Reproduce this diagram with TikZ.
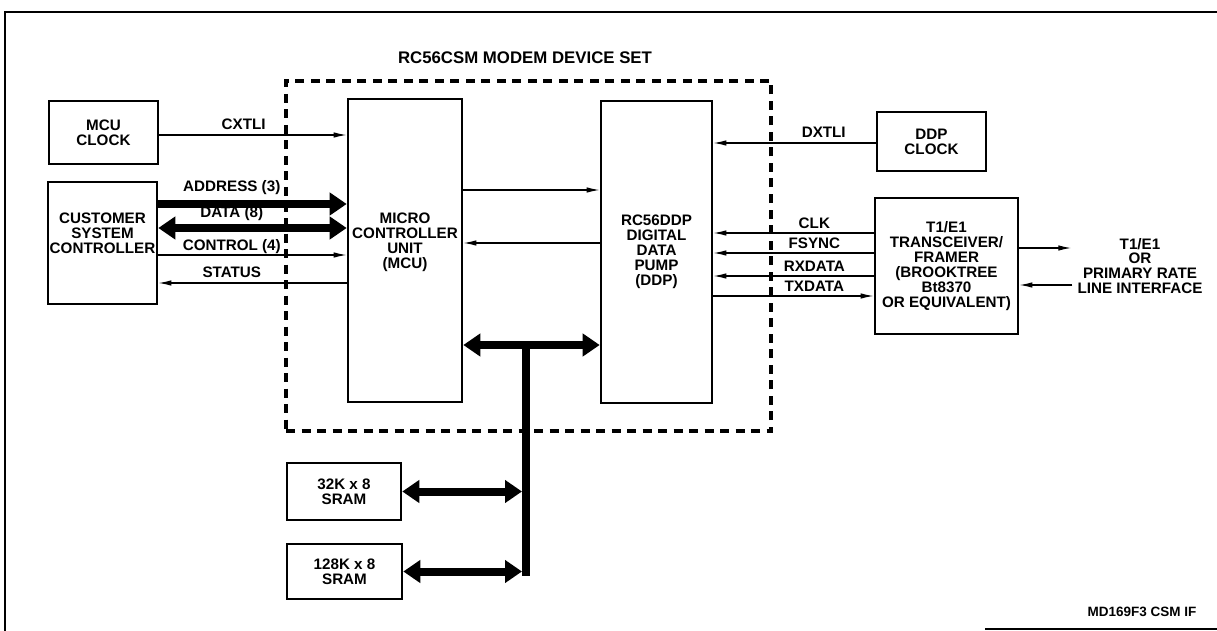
\documentclass[tikz,border=0pt]{standalone}
\usepackage{fontspec}
\setmainfont{Liberation Sans}
\usetikzlibrary{arrows.meta,calc}
\begin{document}
\begin{tikzpicture}[x=1pt,y=-1pt,
  box/.style={draw, line width=2.6pt, inner sep=0pt, font=\fontsize{15.2}{14.9}\selectfont\bfseries, align=center},
  txt/.style={inner sep=0pt, font=\fontsize{15.2}{14.9}\selectfont\bfseries, align=center},
  dashbox/.style={draw, line width=4pt, dash pattern=on 9pt off 6.5pt, inner sep=0pt},
  sig/.style={line width=1.3pt, -{Latex[length=13pt,width=5.5pt]}},
  fatone/.style={line width=8pt, -{Triangle[length=17pt,width=22pt]}},
  fattwo/.style={line width=8pt, {Triangle[length=17pt,width=22pt]}-{Triangle[length=17pt,width=22pt]}},
  busline/.style={line width=8pt},
  lab/.style={inner sep=0pt, anchor=base, yshift=5pt, font=\fontsize{15.2}{14.9}\selectfont\bfseries},
  labT/.style={lab, yshift=7pt}
]
\useasboundingbox (0,0) rectangle (1217,631);
% frame
\draw[line width=2.5pt] (1217,12) -- (5,12) -- (5,631);
\draw[line width=2pt] (985,629) -- (1217,629);

% device set
\node[dashbox, minimum width=485pt, minimum height=350pt] (set) at (528.5,256) {};
\node[txt, font=\fontsize{16.8}{18}\selectfont\bfseries] (title) at (525,58) {RC56CSM MODEM DEVICE SET};

% boxes
\node[box, minimum width=109pt, minimum height=63pt] (mcuclk) at (103.5,132.5) {MCU\\CLOCK};
\node[box, minimum width=109pt, minimum height=122pt] (csc) at (102.5,243) {};
\node[txt] (csct) at ($(csc.center)+(0,-10)$) {CUSTOMER\\SYSTEM\\CONTROLLER};
\node[box, minimum width=114pt, minimum height=303pt] (mcu) at (405,250.5) {};
\node[txt] (mcut) at ($(mcu.center)+(0,-8)$) {MICRO\\CONTROLLER\\UNIT\\(MCU)};
\node[box, minimum width=111pt, minimum height=302pt] (ddp) at (656.5,252) {RC56DDP\\DIGITAL\\DATA\\PUMP\\(DDP)};
\node[box, minimum width=109pt, minimum height=59pt] (ddpclk) at (931.5,141.5) {DDP\\CLOCK};
\node[box, minimum width=143pt, minimum height=136pt] (t1) at (946.5,266) {T1/E1\\TRANSCEIVER/\\FRAMER\\(BROOKTREE\\Bt8370\\OR EQUIVALENT)};
\node[txt] (line) at (1140,266) {T1/E1\\OR\\PRIMARY RATE\\LINE INTERFACE};
\node[box, minimum width=114pt, minimum height=57pt] (s32) at (344,491.5) {32K x 8\\SRAM};
\node[box, minimum width=115pt, minimum height=55pt] (s128) at (344.5,571.5) {128K x 8\\SRAM};
\node[txt, font=\fontsize{13.5}{14}\selectfont\bfseries] (fig) at (1142,612) {MD169F3 CSM IF};

% left side
\coordinate (cx) at ($(mcuclk.east)+(0,2.5)$);
\draw[sig] (cx) -- (cx -| mcu.west) node[lab, pos=0.45] {CXTLI};
\coordinate (addr) at ($(csc.east)+(0,-39)$);
\draw[fatone] (addr) -- (addr -| mcu.west) node[labT, pos=0.39] {ADDRESS (3)};
\coordinate (data) at ($(csc.east)+(0,-15)$);
\draw[fattwo] (data) -- (data -| mcu.west) node[labT, pos=0.39, yshift=-1pt] {DATA (8)};
\coordinate (ctrl) at ($(csc.east)+(0,12)$);
\draw[sig] (ctrl) -- (ctrl -| mcu.west) node[lab, pos=0.39] {CONTROL (4)};
\coordinate (stat) at ($(mcu.west)+(0,32.5)$);
\draw[sig] (stat) -- (stat -| csc.east) node[lab, pos=0.61, yshift=1pt] {STATUS};

% MCU <-> DDP
\coordinate (m2d) at ($(mcu.east)+(0,-60.5)$);
\draw[sig] (m2d) -- (m2d -| ddp.west);
\coordinate (d2m) at ($(ddp.west)+(0,-9)$);
\draw[sig] (d2m) -- (d2m -| mcu.east);

% bus
\coordinate (bj) at (526,345);
\draw[fattwo] (mcu.east |- bj) -- (ddp.west |- bj);
\draw[busline] (bj) -- ($(bj |- s128.east)+(0,4)$);
\draw[fattwo] (s32.east) -- ($(bj |- s32.east)+(-4,0)$);
\draw[fattwo] (s128.east) -- ($(bj |- s128.east)+(-4,0)$);

% right side
\coordinate (dx) at ($(ddpclk.west)+(0,1.5)$);
\draw[sig] (dx) -- (dx -| ddp.east) node[lab, pos=0.32] {DXTLI};
\coordinate (clk) at ($(t1.west)+(0,-33)$);
\draw[sig] (clk) -- (clk -| ddp.east) node[lab, pos=0.37] {CLK};
\coordinate (fs) at ($(t1.west)+(0,-13)$);
\draw[sig] (fs) -- (fs -| ddp.east) node[lab, pos=0.37] {FSYNC};
\coordinate (rx) at ($(t1.west)+(0,10)$);
\draw[sig] (rx) -- (rx -| ddp.east) node[lab, pos=0.37] {RXDATA};
\coordinate (tx) at ($(ddp.east)+(0,44)$);
\draw[sig] (tx) -- (tx -| t1.west) node[lab, pos=0.63] {TXDATA};

% line interface
\coordinate (o1) at ($(t1.east)+(0,-18)$);
\draw[sig] (o1) -- ($(o1 -| line.west)+(-6,0)$);
\coordinate (i1) at ($(t1.east)+(0,19)$);
\draw[sig] ($(i1 -| line.west)+(-5,0)$) -- (i1);
\end{tikzpicture}
\end{document}
